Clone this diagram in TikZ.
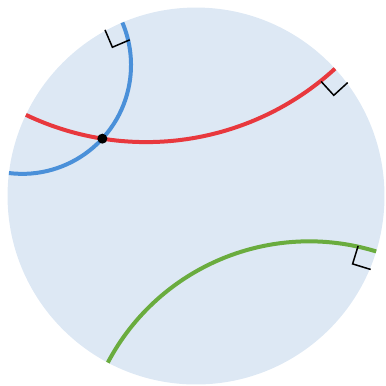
\documentclass[tikz,border=0pt]{standalone}
\usepackage{tikz}
\usetikzlibrary{calc,intersections}
\definecolor{diskfill}{HTML}{DDE8F4}
\definecolor{geoblue}{HTML}{4A90D9}
\definecolor{geored}{HTML}{E8383D}
\definecolor{geogreen}{HTML}{6AAC3E}
% geodesic of the unit disk, ideal ends at angles #1-#2 and #1+#2
\newcommand{\geoarc}[2]{(#1+#2:1) arc[start angle=#1+90+#2, end angle=#1+270-#2, radius={tan(#2)}]}
\tikzset{
  geodesic/.style={line width=4pt},
  rightmark/.style={black,line width=1.5pt},
  point/.style={circle,fill=black,inner sep=0pt,minimum size=10pt}
}

\begin{document}
\begin{tikzpicture}[scale=6.625]
\useasboundingbox (-1.040,-1.008) rectangle (1.003,1.040);
\fill[diskfill] (0,0) circle (1);
\draw[geodesic,geoblue,name path=blue] \geoarc{143}{30};
\draw[geodesic,geored,name path=red] \geoarc{98.5}{56};
\draw[geodesic,geogreen] \geoarc{292.5}{50.4};
% right angles where the geodesics meet the boundary
\foreach \t/\s in {113/1,42.5/-1,342.9/-1}{
  \draw[rightmark,rotate=\t] (0.9,0) -- (0.9,0.1*\s) -- (1,0.1*\s);
}
\path[name intersections={of=blue and red,by={meet}}];
\node[point] (dot) at (meet) {};
\end{tikzpicture}
\end{document}
